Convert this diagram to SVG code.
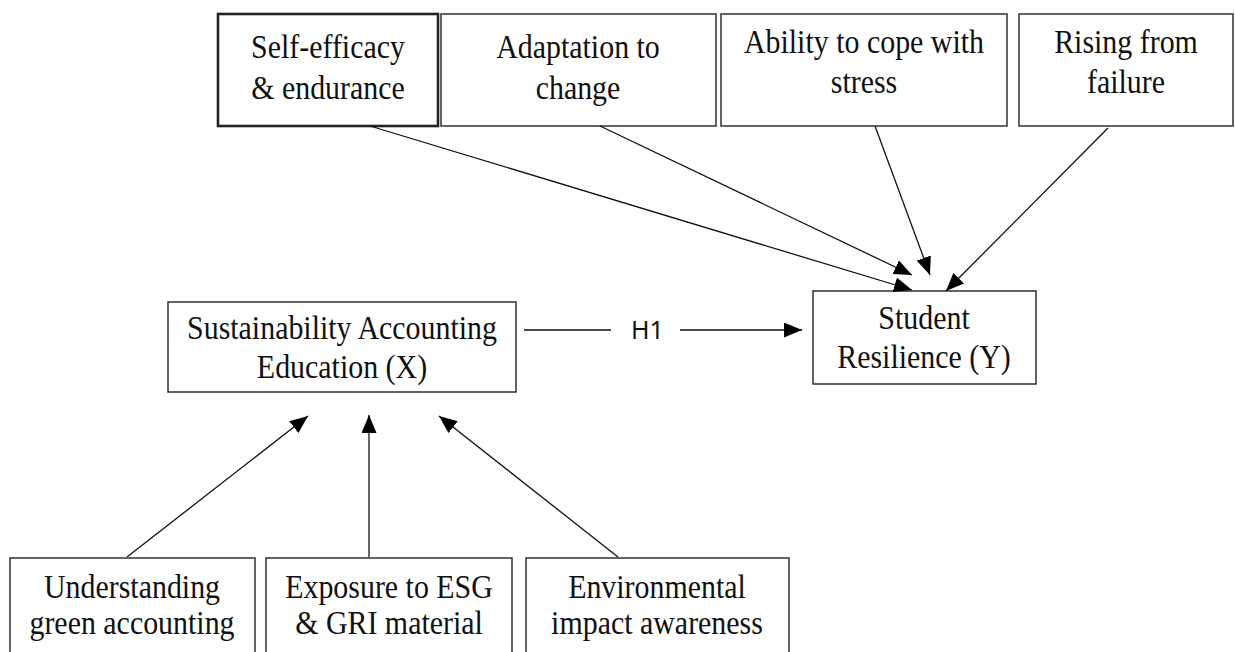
<svg xmlns="http://www.w3.org/2000/svg" width="1235" height="652" viewBox="0 0 1235 652">
<style>
.box{fill:#fff;stroke:#222;stroke-width:1.4}
.thick{stroke-width:2.6}
.t{font-family:"Liberation Serif","Times New Roman",serif;font-size:34px;fill:#111;text-anchor:middle}
.c{stroke:#111;stroke-width:1.3;fill:none}
.h{font-family:"Noto Sans","Open Sans",sans-serif;font-size:25px;fill:#111}
</style>
<defs>
<marker id="ah" viewBox="0 0 10 10" refX="10" refY="5" markerWidth="18" markerHeight="15" markerUnits="userSpaceOnUse" orient="auto" preserveAspectRatio="none">
<path d="M0,0 L10,5 L0,10 z" fill="#000"/>
</marker>
</defs>
<g id="n1"><rect class="box thick" x="218" y="14" width="220" height="112"/><text class="t" transform="translate(328,58) scale(0.88,1)">Self-efficacy</text><text class="t" transform="translate(328,99) scale(0.88,1)">&amp; endurance</text></g>
<g id="n2"><rect class="box" x="441" y="14" width="275" height="112"/><text class="t" transform="translate(578,58) scale(0.88,1)">Adaptation to</text><text class="t" transform="translate(578,99) scale(0.88,1)">change</text></g>
<g id="n3"><rect class="box" x="721" y="14" width="286" height="112"/><text class="t" transform="translate(864,53) scale(0.88,1)">Ability to cope with</text><text class="t" transform="translate(864,93) scale(0.88,1)">stress</text></g>
<g id="n4"><rect class="box" x="1019" y="14" width="214" height="112"/><text class="t" transform="translate(1126,53) scale(0.88,1)">Rising from</text><text class="t" transform="translate(1126,93) scale(0.88,1)">failure</text></g>
<g id="nX"><rect class="box" x="168" y="302" width="348" height="90"/><text class="t" transform="translate(342,339) scale(0.88,1)">Sustainability Accounting</text><text class="t" transform="translate(342,378) scale(0.88,1)">Education (X)</text></g>
<g id="nY"><rect class="box" x="813" y="291" width="223" height="93"/><text class="t" transform="translate(924,329) scale(0.88,1)">Student</text><text class="t" transform="translate(924,368) scale(0.88,1)">Resilience (Y)</text></g>
<g id="nU"><rect class="box" x="10" y="558" width="245" height="100"/><text class="t" transform="translate(132,598) scale(0.88,1)">Understanding</text><text class="t" transform="translate(132,634) scale(0.88,1)">green accounting</text></g>
<g id="nE"><rect class="box" x="266" y="558" width="246" height="100"/><text class="t" transform="translate(389,598) scale(0.88,1)">Exposure to ESG</text><text class="t" transform="translate(389,634) scale(0.88,1)">&amp; GRI material</text></g>
<g id="nEnv"><rect class="box" x="526" y="558" width="263" height="100"/><text class="t" transform="translate(657,598) scale(0.88,1)">Environmental</text><text class="t" transform="translate(657,634) scale(0.88,1)">impact awareness</text></g>
<g id="connectors">
<line class="c" x1="370" y1="126" x2="912" y2="290" marker-end="url(#ah)"/>
<line class="c" x1="600" y1="126" x2="912" y2="275" marker-end="url(#ah)"/>
<line class="c" x1="875" y1="126" x2="930" y2="275" marker-end="url(#ah)"/>
<line class="c" x1="1108" y1="128" x2="946" y2="291" marker-end="url(#ah)"/>
<line class="c" x1="127" y1="557" x2="308" y2="416" marker-end="url(#ah)"/>
<line class="c" x1="369" y1="557" x2="369" y2="415" marker-end="url(#ah)"/>
<line class="c" x1="618" y1="557" x2="439" y2="416" marker-end="url(#ah)"/>
<line class="c" x1="524" y1="330" x2="611" y2="330"/>
<line class="c" x1="680" y1="330" x2="802" y2="330" marker-end="url(#ah)"/>
<text class="h" x="631" y="339">H1</text>
</g>
</svg>
